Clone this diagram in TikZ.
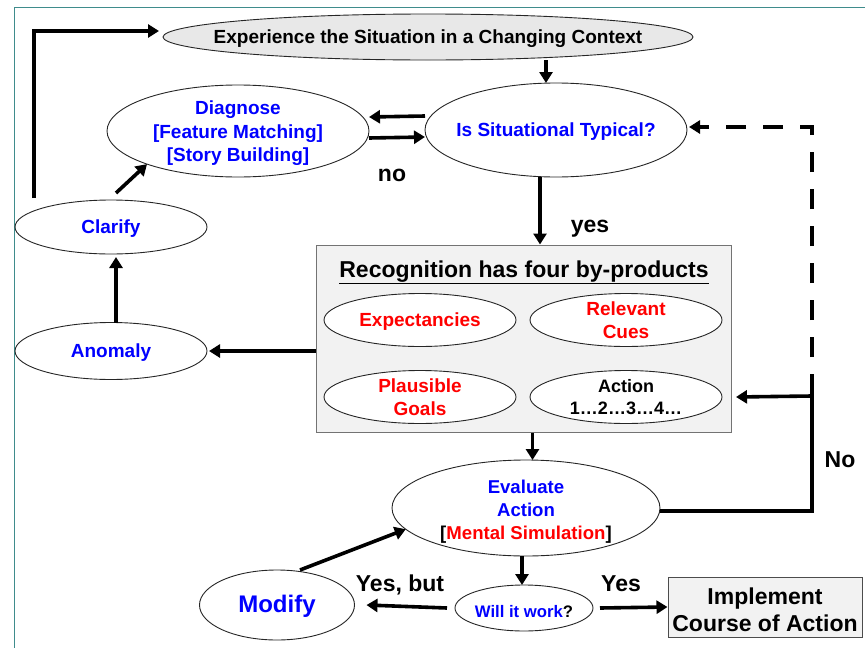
\documentclass[tikz,border=0pt]{standalone}
\usepackage{fontspec}
\setmainfont{Liberation Sans}
\usetikzlibrary{arrows.meta,shapes.geometric,calc}
\definecolor{teal1}{HTML}{3F8C8C}
\definecolor{bblue}{HTML}{0000FF}
\definecolor{rred}{HTML}{FF0000}
\definecolor{boxfill}{HTML}{F2F2F2}
\definecolor{expfill}{HTML}{E8E8E8}
\tikzset{
  ell/.style={ellipse, draw=black!85, line width=0.9pt, fill=white, inner sep=0pt, outer sep=0pt},
  txt/.style={font=\fontsize{19}{23.5}\selectfont\bfseries, align=center, inner sep=0pt},
  lbl/.style={font=\fontsize{23}{26}\selectfont\bfseries, inner sep=0pt},
  arr/.style={line width=3.6pt, -{Triangle[length=11pt,width=13pt]}},
  conn/.style={line width=3.6pt},
}
\begin{document}
\begin{tikzpicture}[x=1pt,y=-1pt]
\useasboundingbox (0,0) rectangle (865,648);
% frame
\draw[teal1, line width=1.5pt] (14.5,648) -- (14.5,7.5) -- (865,7.5);

% nodes
\node[ell, fill=expfill, minimum width=530pt, minimum height=46pt,
  label={[txt, yshift=-1.5pt]center:Experience the Situation in a Changing Context}] (exp) at (428,37) {};
\node[ell, minimum width=262pt, minimum height=94pt,
  label={[txt, text=bblue, yshift=-1.5pt]center:Is Situational Typical?}] (sit) at (556,130) {};
\node[ell, minimum width=262pt, minimum height=92pt,
  label={[txt, text=bblue, yshift=-2.5pt]center:Diagnose\\{[}Feature Matching{]}\\{[}Story Building{]}}] (diag) at (238,131) {};
\node[ell, minimum width=192pt, minimum height=54pt,
  label={[txt, text=bblue, yshift=-1.5pt]center:Clarify}] (clar) at (111,227) {};
\node[ell, minimum width=192pt, minimum height=57pt,
  label={[txt, text=bblue, yshift=-1.5pt]center:Anomaly}] (anom) at (111,351) {};

\node[draw=black!55, line width=1pt, fill=boxfill, minimum width=415pt, minimum height=187pt, inner sep=0pt] (box) at (523.5,338.5) {};
\node[txt, font=\fontsize{23}{26}\selectfont\bfseries] (title) at (524,272.5) {\underline{Recognition has four by-products}};
\node[ell, minimum width=192pt, minimum height=53pt,
  label={[txt, text=rred, yshift=-1.5pt]center:Expectancies}] (expc) at (420,320) {};
\node[ell, minimum width=192pt, minimum height=53pt,
  label={[txt, text=rred, font=\fontsize{19}{23}\selectfont\bfseries]center:Relevant\\Cues}] (cues) at (626,320) {};
\node[ell, minimum width=192pt, minimum height=53pt,
  label={[txt, text=rred, font=\fontsize{19}{23}\selectfont\bfseries]center:Plausible\\Goals}] (goals) at (420,397) {};
\node[ell, minimum width=192pt, minimum height=53pt,
  label={[txt, font=\fontsize{18}{22}\selectfont\bfseries]center:Action\\1…2…3…4…}] (action) at (626,397) {};

\node[ell, minimum width=268pt, minimum height=96pt,
  label={[txt, text=bblue, font=\fontsize{18.6}{23}\selectfont\bfseries, yshift=-3.5pt]center:Evaluate\\Action\\\textcolor{black}{[}\textcolor{rred}{Mental Simulation}\textcolor{black}{]}}] (eval) at (526,508) {};
\node[ell, minimum width=138pt, minimum height=46pt,
  label={[txt, text=bblue, font=\fontsize{16.7}{20}\selectfont\bfseries, yshift=-3.5pt]center:Will it work\textcolor{black}{?}}] (will) at (524,608) {};
\node[ell, minimum width=155pt, minimum height=70pt,
  label={[txt, text=bblue, font=\fontsize{24}{28}\selectfont\bfseries, yshift=-1.5pt]center:Modify}] (mod) at (277,605) {};
\node[draw=black!70, line width=1pt, fill=boxfill, minimum width=194pt, minimum height=60pt, inner sep=0pt] (impl) at (765,607) {};
\node[txt, font=\fontsize{23}{27}\selectfont\bfseries] (impltxt) at (765,610) {Implement\\Course of Action};

% labels
\node[lbl] (lno) at (392,175) {no};
\node[lbl] (lyes) at (590,229) {yes};
\node[lbl] (lNo) at (840,460) {No};
\node[lbl] (lyb) at (400,585) {Yes, but};
\node[lbl] (lY) at (621,584) {Yes};

% coordinates
\coordinate (lstart) at (34,198);
\coordinate (lcorner) at (34,31);
\coordinate (nb) at (812,511);
\coordinate (nj) at (812,396);
\coordinate (nt) at (812,374);
\coordinate (dt) at (812,127);

% connectors
\draw[arr] ([xshift=-10pt]sit.north |- exp.south) -- ([xshift=-10pt]sit.north);
\draw[arr] ([yshift=14pt]sit.west) -- ([yshift=14pt]diag.east);
\draw[arr] ([yshift=-7pt]diag.east) -- ([yshift=-7pt]sit.west);
\draw[arr] ([xshift=-16pt]sit.south) -- ([xshift=-16pt]sit.south |- box.north);
\draw[arr] (box.west |- anom.east) -- ([xshift=2pt]anom.east);
\draw[arr] ([xshift=5pt]anom.north) -- ([xshift=5pt,yshift=-3pt]clar.south);
\draw[arr] ([shift={(5pt,7pt)}]clar.north) -- (diag.200);
\draw[arr, line width=4.2pt] (lstart) -- (lcorner) -- ([yshift=6pt,xshift=-4pt]exp.west);
\draw[arr] ([xshift=9pt]box.south) -- ([xshift=9pt]box.south |- eval.north);
\draw[conn] ([yshift=-3pt]eval.east) -- (nb) -- (nt);
\draw[arr] (nj) -- ([xshift=14pt]action.east);
\draw[arr, dash pattern=on 20pt off 17pt, dash phase=20pt] (nt) -- (dt) -- ([yshift=3pt,xshift=2pt]sit.east);
\draw[arr] ([xshift=-4pt]eval.south) -- ([xshift=-4pt]eval.south |- will.north);
\draw[arr] ([xshift=-8pt]will.west) -- ([xshift=12pt]mod.east);
\draw[arr] ([xshift=7pt]will.east) -- (impl.west);
\draw[arr] ([xshift=23pt]mod.north) -- (eval.190);
\end{tikzpicture}
\end{document}
